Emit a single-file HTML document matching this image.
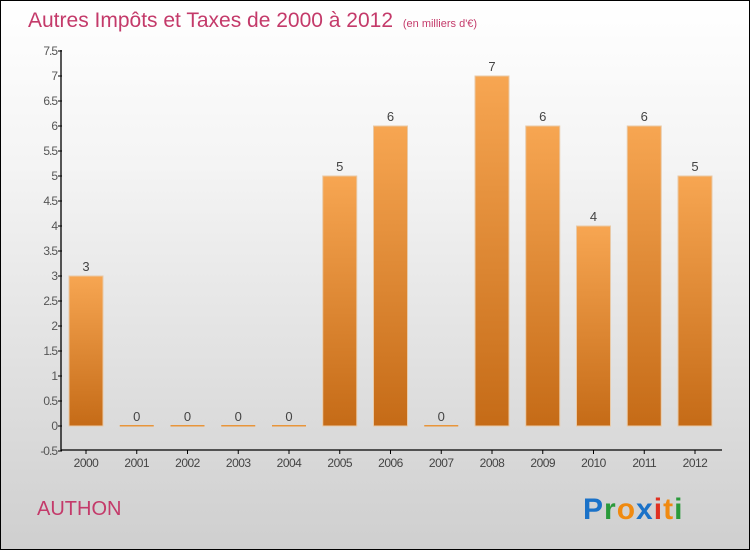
<!DOCTYPE html>
<html><head><meta charset="utf-8"><style>
body{margin:0}
#c{width:748px;height:548px;border:1px solid #000;background:linear-gradient(#fff,#f4f4f4 30%,#cfcfcf);position:relative;font-family:"Liberation Sans",sans-serif;overflow:hidden}
</style></head><body>
<div id="c">
<svg width="748" height="548" xmlns="http://www.w3.org/2000/svg" id="s">
<defs><linearGradient id="g" x1="0" y1="0" x2="0" y2="1"><stop offset="0" stop-color="#f7a652"/><stop offset="1" stop-color="#c56b17"/></linearGradient></defs>
<text x="27" y="26" font-size="21" fill="#c43a6a">Autres Impôts et Taxes de 2000 à 2012 <tspan font-size="11" dx="4">(en milliers d'€)</tspan></text>
<text x="36" y="514" font-size="20" fill="#c43a6a">AUTHON</text>
<text x="582" y="518" font-size="30" font-weight="bold" letter-spacing="1"><tspan fill="#1b72c8">P</tspan><tspan fill="#2a9a3a">r</tspan><tspan fill="#f08a10">o</tspan><tspan fill="#1b72c8">x</tspan><tspan fill="#e03020">i</tspan><tspan fill="#f08a10">t</tspan><tspan fill="#2a9a3a">i</tspan></text>
<g id="plot"></g>
</svg>
</div>
<script>
const years=["2000","2001","2002","2003","2004","2005","2006","2007","2008","2009","2010","2011","2012"];
const values=[3,0,0,0,0,5,6,0,7,6,4,6,5];
const ticks=["-0.5","0","0.5","1","1.5","2","2.5","3","3.5","4","4.5","5","5.5","6","6.5","7","7.5"];
const NS="http://www.w3.org/2000/svg";
const g=document.getElementById('plot');
const y=v=>425-(v*50);
const x=i=>85+i*50.75;
function mk(t,a){const e=document.createElementNS(NS,t);for(const k in a)e.setAttribute(k,a[k]);g.appendChild(e);return e;}
let ax=mk('path',{d:'M60,49V449H721',stroke:'#000','stroke-width':1.3,fill:'none'});


ticks.forEach(t=>{const v=parseFloat(t);const yy=y(v);
const tk=mk('line',{x1:57,x2:61,y1:yy,y2:yy,stroke:'#000'});


const l=mk('text',{x:56,y:yy+4,'font-size':12,fill:'#555','text-anchor':'end','letter-spacing':'-1'});
l.textContent=t;

});
years.forEach((yr,i)=>{const cx=x(i),v=values[i];
const tk=mk('line',{x1:cx,x2:cx,y1:449,y2:453,stroke:'#000'});


const l=mk('text',{x:cx,y:466,'font-size':12,fill:'#444','text-anchor':'middle','letter-spacing':'-0.5'});
l.textContent=yr;


let b;
if(v>0){b=mk('rect',{x:cx-17,y:y(v),width:34,height:y(0)-y(v),fill:'url(#g)',stroke:'#e9c9a6','stroke-width':1});}
else{b=mk('rect',{x:cx-17,y:y(0)-1,width:34,height:1.5,fill:'#e8953a'});}


const vl=mk('text',{x:cx,y:y(v)-5,'font-size':13,fill:'#444','text-anchor':'middle'});
vl.textContent=v;

});
</script>
</body></html>
